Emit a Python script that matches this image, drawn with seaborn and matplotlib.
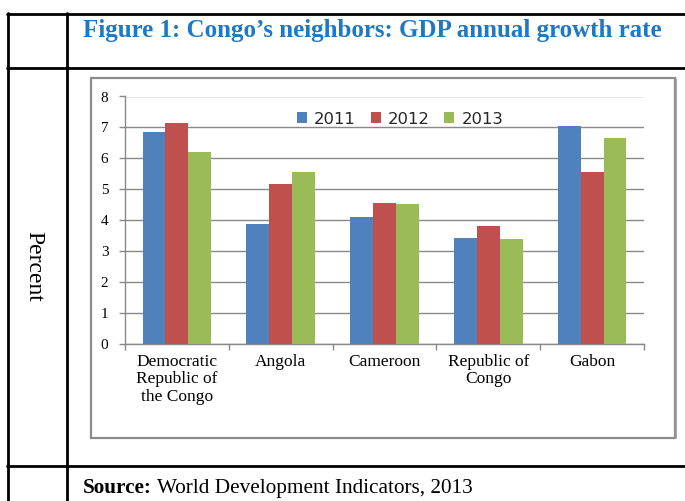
import matplotlib
matplotlib.use("Agg")
import matplotlib.pyplot as plt
from matplotlib.patches import Rectangle
from matplotlib.lines import Line2D
import pandas as pd
import seaborn as sns

# GDP annual growth rate (%) by country and year
countries = ["Democratic\nRepublic of\nthe Congo", "Angola", "Cameroon",
             "Republic of\nCongo", "Gabon"]
years = ["2011", "2012", "2013"]
growth_2011 = [6.86, 3.89, 4.11, 3.43, 7.05]
growth_2012 = [7.15, 5.18, 4.57, 3.82, 5.57]
growth_2013 = [6.21, 5.57, 4.54, 3.40, 6.67]
y_ticks = [0, 1, 2, 3, 4, 5, 6, 7, 8]

title_text = "Figure 1: Congo\u2019s neighbors: GDP annual growth rate"
source_bold = "Source:"
source_rest = " World Development Indicators, 2013"
axis_label = "Percent"

bar_colors = ["#4F81BD", "#C0504D", "#9BBB59"]
grid_gray = "#898989"
serif = ["Liberation Serif", "DejaVu Serif"]

df = pd.DataFrame({
    "country": countries * 3,
    "year": [years[0]] * 5 + [years[1]] * 5 + [years[2]] * 5,
    "growth": growth_2011 + growth_2012 + growth_2013,
})

sns.set_theme(style="white")
W, H = 685, 501
fig = plt.figure(figsize=(W / 100, H / 100), dpi=100)
fig.patch.set_facecolor("white")


def fx(px):
    return px / W


def fy(py):
    return 1 - py / H


# table frame around the figure
tbl_lw = 2.0
for xpx in (8, 67):
    fig.add_artist(Line2D([fx(xpx), fx(xpx)], [fy(13), fy(H + 2)],
                          color="black", lw=tbl_lw, transform=fig.transFigure))
for ypx in (14, 68, 466):
    fig.add_artist(Line2D([fx(7), fx(W + 2)], [fy(ypx), fy(ypx)],
                          color="black", lw=tbl_lw, transform=fig.transFigure))

# chart frame
fig.add_artist(Rectangle((fx(91), fy(438)), fx(675) - fx(91), fy(78) - fy(438),
                         fill=False, edgecolor="#8C8C8C", lw=1.6,
                         transform=fig.transFigure))
fig.add_artist(Line2D([fx(675.5), fx(675.5)], [fy(79), fy(438)],
                      color="#9A9A9A", lw=1.2, transform=fig.transFigure))

ax = fig.add_axes([fx(125), fy(344), fx(644) - fx(125), fy(96.5) - fy(344)])
sns.barplot(data=df, x="country", y="growth", hue="year", palette=bar_colors,
            width=0.66, saturation=1, errorbar=None, ax=ax, zorder=3,
            edgecolor="none", linewidth=0)

ax.set_ylim(0, 8)
ax.set_xlim(-0.5, 4.5)
ax.set_yticks(y_ticks)
ax.set_yticklabels([str(v) for v in y_ticks], family=serif, fontsize=11)
ax.set_xlabel("")
ax.set_ylabel("")
ax.set_facecolor("white")
ax.set_axisbelow(True)
ax.yaxis.grid(True, color=grid_gray, lw=1.0)
ax.xaxis.grid(False)

for side in ("top", "right"):
    ax.spines[side].set_visible(False)
for side in ("left", "bottom"):
    ax.spines[side].set_color(grid_gray)
    ax.spines[side].set_linewidth(1.0)

ax.tick_params(axis="y", which="major", left=True, length=4, width=1.0,
               color=grid_gray, pad=8, labelcolor="black")
ax.set_xticks(range(len(countries)))
ax.set_xticklabels(countries, family=serif, fontsize=12.5, linespacing=1.12)
ax.set_xticks([i - 0.5 for i in range(len(countries) + 1)], minor=True)
ax.tick_params(axis="x", which="major", bottom=False, length=0, pad=7,
               labelcolor="black")
ax.tick_params(axis="x", which="minor", bottom=True, length=4, width=1.0,
               color=grid_gray)

leg = ax.legend(loc="center", bbox_to_anchor=(0.53, 0.909), ncol=3,
                frameon=False, fontsize=11.8, handlelength=0.62,
                handleheight=0.62, handletextpad=0.42, columnspacing=0.9,
                borderpad=0)

# header, side label and source line
fig.text(fx(83), fy(30), title_text, ha="left", va="center",
         family=serif, fontweight="bold", fontsize=18.0, color="#1F78C4")
fig.text(fx(34), fy(266), axis_label, ha="center", va="center",
         rotation=-90, family=serif, fontsize=17, color="black")

src = fig.text(fx(83), fy(488), source_bold, ha="left", va="center",
               family=serif, fontweight="bold", fontsize=15.3, color="black")
fig.canvas.draw()
bb = src.get_window_extent(renderer=fig.canvas.get_renderer())
fig.text(bb.x1 / W, fy(488), source_rest, ha="left", va="center",
         family=serif, fontsize=15.3, color="black")

fig.savefig("out.png", dpi=100, facecolor="white")
